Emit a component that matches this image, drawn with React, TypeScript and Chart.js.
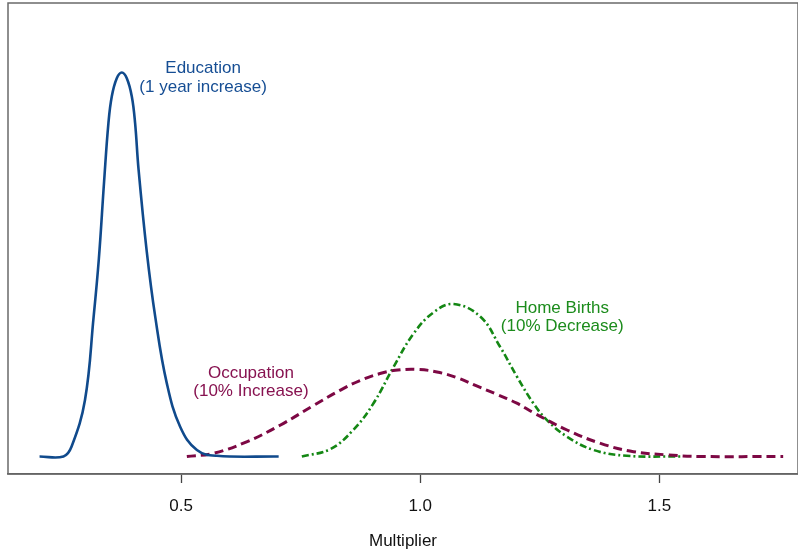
import React, { useEffect, useRef } from "react";
import { Chart, registerables } from "chart.js";

Chart.register(...registerables);

// Education (1 year increase) density
const eduX = [0.204, 0.254, 0.271, 0.299, 0.317, 0.328, 0.339, 0.348, 0.355, 0.3655, 0.376, 0.3864, 0.3969, 0.4038, 0.411, 0.428, 0.446, 0.47, 0.498, 0.533, 0.575, 0.704];
const eduY = [0, 0.0, 0.31, 1.77, 4.37, 6.2, 8.63, 10.45, 11.29, 11.86, 12.04, 11.86, 11.29, 10.45, 9.0, 6.45, 4.37, 2.3, 0.93, 0.2, 0.02, 0];

// Occupation (10% Increase) density
const occX = [0.512, 0.568, 0.637, 0.707, 0.777, 0.833, 0.874, 0.916, 0.948, 0.993, 1.035, 1.077, 1.118, 1.16, 1.202, 1.237, 1.307, 1.377, 1.446, 1.516, 1.586, 1.759];
const occY = [0, 0.1, 0.46, 0.98, 1.6, 2.08, 2.38, 2.6, 2.7, 2.73, 2.65, 2.47, 2.21, 1.95, 1.67, 1.37, 0.83, 0.41, 0.15, 0.05, 0.0, 0];

// Home Births (10% Decrease) density
const homeX = [0.7525, 0.812, 0.86, 0.902, 0.944, 0.986, 1.028, 1.07, 1.126, 1.167, 1.202, 1.237, 1.265, 1.307, 1.363, 1.432, 1.547];
const homeY = [0, 0.23, 0.83, 1.66, 2.8, 3.85, 4.52, 4.78, 4.38, 3.44, 2.51, 1.66, 1.14, 0.62, 0.2, 0.02, 0];

const tickValues = [0.5, 1.0, 1.5];
const xTitle = "Multiplier";

const curveLabels = [
  { lines: ["Education", "(1 year increase)"], x: 0.546, y: 12.16, color: "rgb(22,78,148)" },
  { lines: ["Occupation", "(10% Increase)"], x: 0.646, y: 2.61, color: "rgb(135,18,80)" },
  { lines: ["Home Births", "(10% Decrease)"], x: 1.297, y: 4.66, color: "rgb(28,140,28)" },
];

const FONT = '"Liberation Sans", Arial, Helvetica, sans-serif';

export default function App() {
  const ref = useRef<HTMLCanvasElement | null>(null);

  useEffect(() => {
    document.body.style.margin = "0";
    const canvas = ref.current;
    if (!canvas) return;

    const toPts = (xs: number[], ys: number[]) => xs.map((x, i) => ({ x, y: ys[i] }));

    const boxPlugin = {
      id: "boxAndLabels",
      afterDraw(chart: any) {
        const { ctx, chartArea, scales } = chart;
        ctx.save();
        ctx.strokeStyle = "#6a6a6a";
        ctx.lineWidth = 1.5;
        ctx.strokeRect(chartArea.left, chartArea.top, chartArea.right - chartArea.left, chartArea.bottom - chartArea.top);
        ctx.font = `17px ${FONT}`;
        ctx.textAlign = "center";
        ctx.textBaseline = "middle";
        for (const lab of curveLabels) {
          const px = scales.x.getPixelForValue(lab.x);
          const py = scales.y.getPixelForValue(lab.y);
          ctx.fillStyle = lab.color;
          lab.lines.forEach((t, i) => ctx.fillText(t, px, py + i * 18.5));
        }
        ctx.restore();
      },
    };

    const common = { pointRadius: 0, tension: 0.4, fill: false };

    const chart = new Chart(canvas, {
      type: "line",
      data: {
        datasets: [
          {
            label: "Education",
            data: toPts(eduX, eduY),
            borderColor: "rgb(16,74,140)",
            borderWidth: 2.6,
            ...common,
          },
          {
            label: "Occupation",
            data: toPts(occX, occY),
            borderColor: "rgb(125,8,68)",
            borderWidth: 3,
            borderDash: [9, 5],
            ...common,
          },
          {
            label: "Home Births",
            data: toPts(homeX, homeY),
            borderColor: "rgb(20,135,20)",
            borderWidth: 2.6,
            borderDash: [7, 3, 2, 3],
            ...common,
          },
        ],
      },
      options: {
        responsive: false,
        animation: false,
        layout: { padding: { left: 8, top: 3, right: 0, bottom: 0 } },
        plugins: { legend: { display: false }, tooltip: { enabled: false } },
        scales: {
          x: {
            type: "linear",
            min: 0.138,
            max: 1.79,
            afterBuildTicks: (scale: any) => {
              scale.ticks = tickValues.map((v) => ({ value: v }));
            },
            afterFit: (scale: any) => {
              scale.height = 82;
            },
            grid: {
              drawOnChartArea: false,
              drawTicks: true,
              tickLength: 9,
              tickColor: "#444",
              tickWidth: 1.3,
            },
            border: { display: true, color: "#555", width: 1.5 },
            ticks: {
              autoSkip: false,
              maxRotation: 0,
              padding: 13,
              color: "#111",
              font: { family: FONT, size: 17 },
              callback: (v: any) => Number(v).toFixed(1),
            },
            title: {
              display: true,
              text: xTitle,
              color: "#111",
              font: { family: FONT, size: 17 },
              padding: { top: 0, bottom: 4 },
            },
          },
          y: {
            display: false,
            min: -0.55,
            max: 14.22,
          },
        },
      },
      plugins: [boxPlugin],
    });

    return () => chart.destroy();
  }, []);

  return (
    <div style={{ width: 798, height: 556 }}>
      <canvas ref={ref} width={798} height={556} style={{ display: "block", width: 798, height: 556 }} />
    </div>
  );
}
